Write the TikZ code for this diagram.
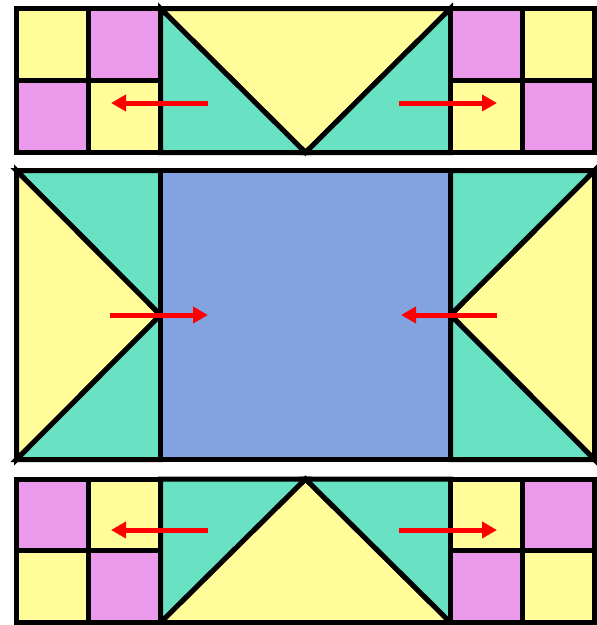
\documentclass[tikz,border=0pt]{standalone}
\usepackage{xcolor}
\usepackage{tikz}
\usetikzlibrary{arrows.meta}
\definecolor{quiltyellow}{HTML}{FFFC99}
\definecolor{quiltpink}{HTML}{EB99EA}
\definecolor{quiltteal}{HTML}{68E2C3}
\definecolor{quiltblue}{HTML}{82A3DF}
\tikzset{
    patch/.style={draw=black, line width=5pt, line join=miter},
    yellowpatch/.style={patch, fill=quiltyellow},
    pinkpatch/.style={patch, fill=quiltpink},
    tealpatch/.style={patch, fill=quiltteal},
    bluepatch/.style={patch, fill=quiltblue},
    shift arrow/.style={-{Triangle[length=15pt, width=16pt]}, line width=5pt, color=red}
}

\begin{document}
\begin{tikzpicture}[x=1pt, y=-1pt]
\useasboundingbox (0,0) rectangle (597,625);

% top row: four-patch, flying geese, four-patch
\draw[yellowpatch] (16.5,8.5) rectangle (88.5,80.5);
\draw[pinkpatch] (88.5,8.5) rectangle (160.5,80.5);
\draw[pinkpatch] (16.5,80.5) rectangle (88.5,152.5);
\draw[yellowpatch] (88.5,80.5) rectangle (160.5,152.5);

\draw[yellowpatch] (160.5,8.5) -- (450.5,8.5) -- (305.5,152.5) -- cycle;
\draw[tealpatch] (160.5,8.5) -- (305.5,152.5) -- (160.5,152.5) -- cycle;
\draw[tealpatch] (450.5,8.5) -- (450.5,152.5) -- (305.5,152.5) -- cycle;

\draw[pinkpatch] (450.5,8.5) rectangle (522.5,80.5);
\draw[yellowpatch] (522.5,8.5) rectangle (594.5,80.5);
\draw[yellowpatch] (450.5,80.5) rectangle (522.5,152.5);
\draw[pinkpatch] (522.5,80.5) rectangle (594.5,152.5);

% middle row: side geese and centre square
\draw[yellowpatch] (16.5,170.5) -- (160.5,315) -- (16.5,459.5) -- cycle;
\draw[tealpatch] (16.5,170.5) -- (160.5,170.5) -- (160.5,315) -- cycle;
\draw[tealpatch] (16.5,459.5) -- (160.5,315) -- (160.5,459.5) -- cycle;

\draw[bluepatch] (160.5,170.5) rectangle (450.5,459.5);

\draw[yellowpatch] (594.5,170.5) -- (594.5,459.5) -- (450.5,315) -- cycle;
\draw[tealpatch] (450.5,170.5) -- (594.5,170.5) -- (450.5,315) -- cycle;
\draw[tealpatch] (450.5,315) -- (594.5,459.5) -- (450.5,459.5) -- cycle;

% bottom row
\draw[pinkpatch] (16.5,479) rectangle (88.5,550.5);
\draw[yellowpatch] (88.5,479) rectangle (160.5,550.5);
\draw[yellowpatch] (16.5,550.5) rectangle (88.5,622.5);
\draw[pinkpatch] (88.5,550.5) rectangle (160.5,622.5);

\draw[yellowpatch] (305.5,479) -- (450.5,622.5) -- (160.5,622.5) -- cycle;
\draw[tealpatch] (160.5,479) -- (305.5,479) -- (160.5,622.5) -- cycle;
\draw[tealpatch] (305.5,479) -- (450.5,479) -- (450.5,622.5) -- cycle;

\draw[yellowpatch] (450.5,479) rectangle (522.5,550.5);
\draw[pinkpatch] (522.5,479) rectangle (594.5,550.5);
\draw[pinkpatch] (450.5,550.5) rectangle (522.5,622.5);
\draw[yellowpatch] (522.5,550.5) rectangle (594.5,622.5);

% arrows
\coordinate (top left from) at (208,103);
\coordinate (top left to) at (111,103);
\coordinate (top right from) at (399,103);
\coordinate (top right to) at (497,103);
\coordinate (mid left from) at (110,315);
\coordinate (mid left to) at (208,315);
\coordinate (mid right from) at (497,315);
\coordinate (mid right to) at (401,315);
\coordinate (bot left from) at (208,530);
\coordinate (bot left to) at (111,530);
\coordinate (bot right from) at (399,530);
\coordinate (bot right to) at (497,530);

\draw[shift arrow] (top left from) -- (top left to);
\draw[shift arrow] (top right from) -- (top right to);
\draw[shift arrow] (mid left from) -- (mid left to);
\draw[shift arrow] (mid right from) -- (mid right to);
\draw[shift arrow] (bot left from) -- (bot left to);
\draw[shift arrow] (bot right from) -- (bot right to);

\end{tikzpicture}
\end{document}
